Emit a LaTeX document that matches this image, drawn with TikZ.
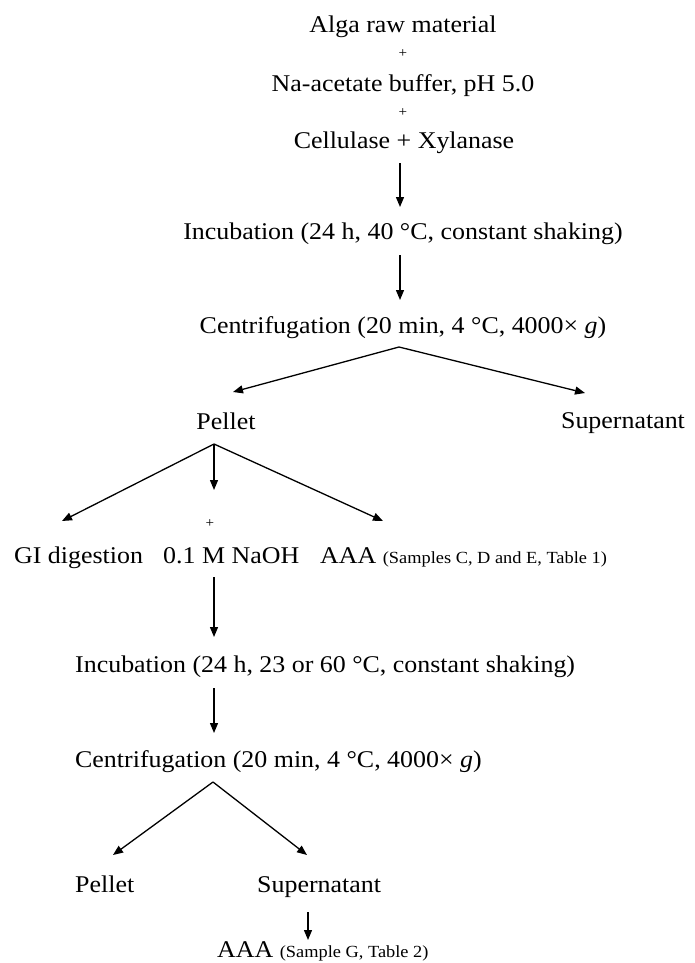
\documentclass[tikz,border=0pt]{standalone}
\usepackage{fontspec}
\setmainfont[FakeStretch=1.08]{Liberation Serif}
\usetikzlibrary{arrows.meta}
\begin{document}
\begin{tikzpicture}[x=1pt,y=-1pt,
  lbl/.style={inner sep=0pt,anchor=base,font=\fontsize{24}{28}\selectfont},
  lblw/.style={lbl,anchor=base west},
  plussign/.style={inner sep=0pt,anchor=base,font=\fontsize{14}{16}\selectfont},
  arr/.style={line width=1.3pt,-{Triangle[length=10pt,width=8pt]}}]
\useasboundingbox (0,0) rectangle (694,963);
\newcommand{\smalltxt}[1]{{\fontsize{17}{20}\selectfont #1}}
% texts
\node[lbl] (alga) at (403,33) {Alga raw material};
\node[plussign] (plusA) at (403,58) {+};
\node[lbl] (buffer) at (403,92) {Na-acetate buffer, pH 5.0};
\node[plussign] (plusB) at (403,117) {+};
\node[lbl] (enz) at (404,148) {Cellulase + Xylanase};
\node[lbl] (inc1) at (403,239) {Incubation (24 h, 40 °C, constant shaking)};
\node[lbl] (cen1) at (403,333) {Centrifugation (20 min, 4 °C, 4000× \textit{g})};
\node[lbl] (pel1) at (226,429) {Pellet};
\node[lbl] (sup1) at (623,428) {Supernatant};
\node[plussign] (plusC) at (210,527) {+};
\node[lblw] (gi) at (14,563) {GI digestion};
\node[lblw] (naoh) at (163,563) {0.1 M NaOH};
\node[lblw] (aaa1) at (320,563) {AAA \smalltxt{(Samples C, D and E, Table 1)}};
\node[lblw] (inc2) at (75,672) {Incubation (24 h, 23 or 60 °C, constant shaking)};
\node[lblw] (cen2) at (75,767) {Centrifugation (20 min, 4 °C, 4000× \textit{g})};
\node[lblw] (pel2) at (75,892) {Pellet};
\node[lblw] (sup2) at (257,892) {Supernatant};
\node[lblw] (aaa2) at (217,957) {AAA \smalltxt{(Sample G, Table 2)}};
% connector points
\coordinate (s1) at (400,163); \coordinate (e1) at (400,207);
\coordinate (s2) at (400,255); \coordinate (e2) at (400,300);
\coordinate (apx1) at (399,347);
\coordinate (e3) at (233,392); \coordinate (e4) at (585,393);
\coordinate (apx2) at (214,444);
\coordinate (e5) at (62,521); \coordinate (e6) at (214,490); \coordinate (e7) at (383,521);
\coordinate (s8) at (214,577); \coordinate (e8) at (214,637);
\coordinate (s9) at (214,688); \coordinate (e9) at (214,733);
\coordinate (apx3) at (213,782);
\coordinate (e10) at (113,855); \coordinate (e11) at (307,855);
\coordinate (s12) at (308,912); \coordinate (e12) at (308,940);
% arrows
\draw[arr] (s1) -- (e1);
\draw[arr] (s2) -- (e2);
\draw[arr] (apx1) -- (e3);
\draw[arr] (apx1) -- (e4);
\draw[arr] (apx2) -- (e5);
\draw[arr] (apx2) -- (e6);
\draw[arr] (apx2) -- (e7);
\draw[arr] (s8) -- (e8);
\draw[arr] (s9) -- (e9);
\draw[arr] (apx3) -- (e10);
\draw[arr] (apx3) -- (e11);
\draw[arr] (s12) -- (e12);
\end{tikzpicture}
\end{document}
